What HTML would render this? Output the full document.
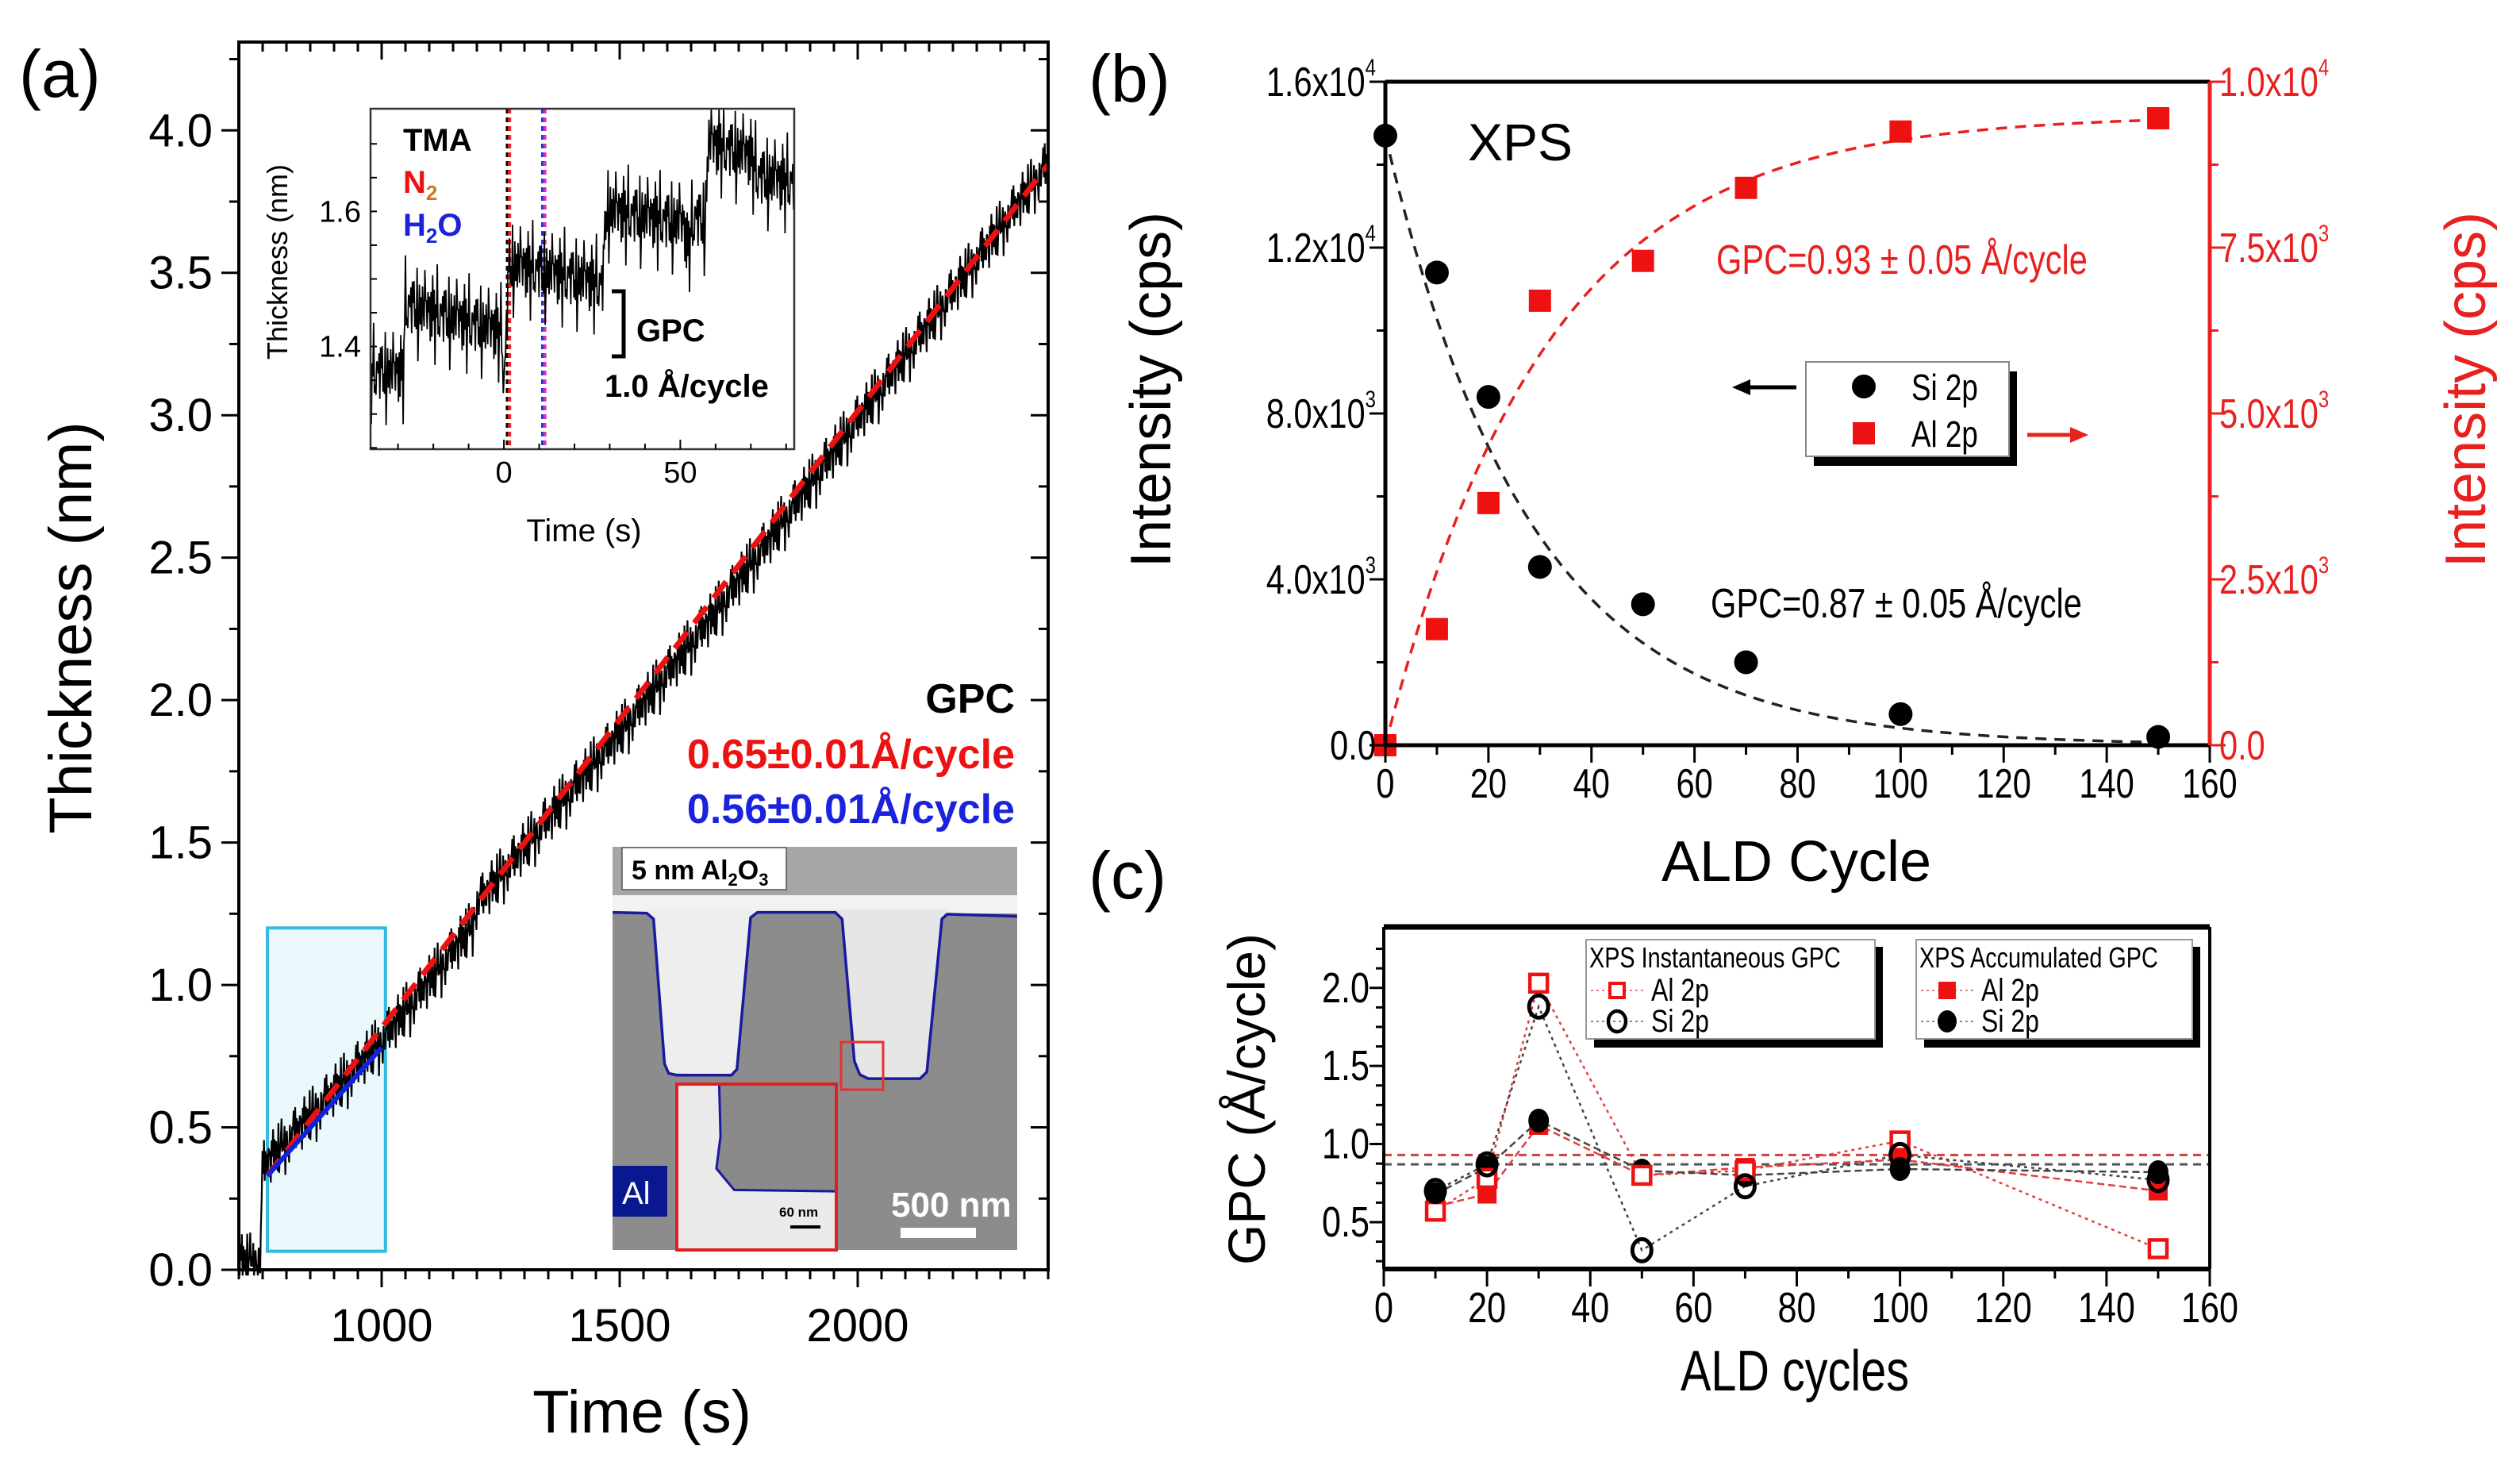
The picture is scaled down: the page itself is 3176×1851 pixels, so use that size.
<!DOCTYPE html>
<html><head><meta charset="utf-8"><style>
html,body{margin:0;padding:0;background:#fff;}
svg{display:block;}
text{font-family:"Liberation Sans",Arial,sans-serif;}
</style></head><body>
<svg id="fig" xmlns="http://www.w3.org/2000/svg" width="3176" height="1851" viewBox="0 0 3176 1851">
<rect x="0" y="0" width="3176" height="1851" fill="#fff"/>
<g id="pa"></g>
<g id="pb"></g>
<g id="pc"></g>
</svg>
<script>
// ---------- DATA ----------
const aTimes=[700,745,750,1000,1190,1200,1500,1700,2000,2400];
const aThick=[0.03,0.03,0.36,0.80,1.20,1.28,1.88,2.30,2.98,3.88];
const aFitRed=[[760,0.33],[2400,3.88]];
const aFitBlue=[[760,0.33],[1000,0.78]];
const aXTicks=[1000,1500,2000];
const aYTicks=[0,0.5,1,1.5,2,2.5,3,3.5,4];
const aYLabels=["0.0","0.5","1.0","1.5","2.0","2.5","3.0","3.5","4.0"];
const jit=[0.3,-0.8,0.6,-0.2,0.9,-0.5,0.1,-0.9,0.7,0.2,-0.4,0.8,-0.7,0.4,-0.1,0.95,-0.6,0.25,-0.3,0.55,-0.85,0.15,0.7,-0.45,0.35,-0.95,0.5,0.05,-0.65,0.85,-0.15,0.45,-0.75,0.6,-0.35,0.2,-0.55,0.75,-0.25,0.65,-0.05];
const iTimes=[-38,-28.5,-28,-0.5,0,1.5,28,29,51,52,54,57,58,70,72,82.3];
const iThick=[1.36,1.36,1.46,1.42,1.33,1.52,1.49,1.60,1.58,1.54,1.59,1.58,1.70,1.68,1.65,1.64];
const iVLines=[1.0,1.6,11.0,11.6];
const bCycles=[0,10,20,30,50,70,100,150];
const bSi=[14700,11400,8400,4300,3400,2000,750,200];
const bAl=[0,1750,3650,6700,7300,8400,9250,9450];
const bSiFit=[14700,28];
const bAlFit=[9500,31];
const bXTicks=[0,20,40,60,80,100,120,140,160];
const bLTicks=[0,4000,8000,12000,16000];
const bLLab=[["0.0",""],["4.0x10","3"],["8.0x10","3"],["1.2x10","4"],["1.6x10","4"]];
const bRTicks=[0,2500,5000,7500,10000];
const bRLab=[["0.0",""],["2.5x10","3"],["5.0x10","3"],["7.5x10","3"],["1.0x10","4"]];
const cCycles=[10,20,30,50,70,100,150];
const cInstAl=[0.57,0.78,2.03,0.80,0.83,1.02,0.33];
const cInstSi=[0.70,0.87,1.88,0.32,0.73,0.93,0.77];
const cAccAl=[0.60,0.68,1.12,0.80,0.85,0.90,0.70];
const cAccSi=[0.68,0.85,1.15,0.83,0.80,0.84,0.82];
const cRefLines=[0.93,0.87];
const cXTicks=[0,20,40,60,80,100,120,140,160];
const cYTicks=[0.5,1.0,1.5,2.0];
const cYLabels=["0.5","1.0","1.5","2.0"];

// ---------- HELPERS ----------
const NS="http://www.w3.org/2000/svg";
function el(tag,attrs,parent,txt){const e=document.createElementNS(NS,tag);for(const k in attrs)e.setAttribute(k,attrs[k]);if(txt!==undefined)e.textContent=txt;parent.appendChild(e);return e;}
function lin(d0,d1,r0,r1){return v=>r0+(v-d0)/(d1-d0)*(r1-r0);}
function interp(xs,ys,x){for(let i=0;i<xs.length-1;i++){if(x<=xs[i+1]){const f=(x-xs[i])/(xs[i+1]-xs[i]);return ys[i]+f*(ys[i+1]-ys[i]);}}return ys[ys.length-1];}
// condensed text: returns text element inside scaled group
function ntext(parent,x,y,size,anchor,fill,str){const gg=el('g',{transform:'translate('+x+','+y+') scale(0.8,1)'},parent);const t=el('text',{x:0,y:0,'font-size':size,'text-anchor':anchor||'start',fill:fill||'#000'},gg,str);return t;}

// ---------- PANEL A ----------
(function(){
const g=document.getElementById('pa');
const L=301,R=1321,T=53,B=1600;
const X=lin(700,2400,L,R),Y=lin(0,4.31,B,T);
let e=el('rect',{x:X(760),y:Y(1.2),width:X(1008)-X(760),height:Y(0.065)-Y(1.2),fill:'#eaf8fc',stroke:'#33bbdd','stroke-width':4},g);

let d='';let k=0;
for(let t=700;t<=2400;t+=1.6){let v=interp(aTimes,aThick,t)+0.08*jit[k%jit.length]+0.05*jit[(k*7+3)%jit.length];k++;d+=(d?'L':'M')+X(t).toFixed(1)+' '+Y(Math.max(-0.02,v)).toFixed(1);}
e=el('path',{d:d,fill:'none',stroke:'#000','stroke-width':2.2},g);

e=el('line',{x1:X(aFitRed[0][0]),y1:Y(aFitRed[0][1]),x2:X(aFitRed[1][0]),y2:Y(aFitRed[1][1]),stroke:'#ee1111','stroke-width':7,'stroke-dasharray':'26 14'},g);

e=el('line',{x1:X(aFitBlue[0][0]),y1:Y(aFitBlue[0][1]),x2:X(aFitBlue[1][0]),y2:Y(aFitBlue[1][1]),stroke:'#1122dd','stroke-width':6},g);

e=el('rect',{x:L,y:T,width:R-L,height:B-T,fill:'none',stroke:'#000','stroke-width':4},g);

for(let t=700;t<=2400;t+=50){const maj=t%500===0;const x=X(t);el('line',{x1:x,y1:B,x2:x,y2:B+(maj?22:12),stroke:'#000','stroke-width':3},g);el('line',{x1:x,y1:T,x2:x,y2:T+(maj?22:12),stroke:'#000','stroke-width':3},g);}
for(let v=0;v<=4.3;v+=0.25){const y=Y(v);const maj=Math.abs(v*2-Math.round(v*2))<1e-6;el('line',{x1:L,y1:y,x2:L-(maj?22:12),y2:y,stroke:'#000','stroke-width':3},g);el('line',{x1:R,y1:y,x2:R-(maj?22:12),y2:y,stroke:'#000','stroke-width':3},g);}
aXTicks.forEach(t=>{const e=el('text',{x:X(t),y:1690,'font-size':58,'text-anchor':'middle'},g,String(t));});
aYTicks.forEach((v,i)=>{const e=el('text',{x:268,y:Y(v)+20,'font-size':58,'text-anchor':'end'},g,aYLabels[i]);});
e=el('text',{x:809,y:1805,'font-size':76,'text-anchor':'middle'},g,'Time (s)');
e=el('text',{x:0,y:0,'font-size':76,'text-anchor':'middle',transform:'translate(115,791) rotate(-90)'},g,'Thickness (nm)');
e=el('text',{x:24,y:122,'font-size':84},g,'(a)');
e=el('text',{x:1279,y:898,'font-size':52,'font-weight':'bold','text-anchor':'end'},g,'GPC');
e=el('text',{x:1279,y:968,'font-size':52,'font-weight':'bold','text-anchor':'end',fill:'#ee1111'},g,'0.65±0.01Å/cycle');
e=el('text',{x:1279,y:1037,'font-size':52,'font-weight':'bold','text-anchor':'end',fill:'#1a22dd'},g,'0.56±0.01Å/cycle');

// ---- SEM image ----
const s=el('g',{},g);
el('rect',{x:772,y:1067,width:510,height:508,fill:'#8c8c8c'},s);
el('rect',{x:772,y:1067,width:510,height:61,fill:'#a6a6a6'},s);
el('rect',{x:772,y:1128,width:510,height:23,fill:'#f2f2f2'},s);
const sx=n=>760+n*0.3444, sy=n=>1060+n*0.338;
const prof=[[35,265],[160,268],[185,290],[225,830],[240,865],[270,872],[470,872],[490,850],[540,285],[565,265],[850,265],[875,290],[920,820],[940,870],[970,885],[1160,885],[1185,860],[1240,290],[1260,272],[1515,280]];
el('path',{d:'M'+sx(160)+' '+sy(255)+' L'+sx(185)+' '+sy(290)+' L'+sx(225)+' '+sy(830)+' L'+sx(240)+' '+sy(865)+' L'+sx(470)+' '+sy(872)+' L'+sx(490)+' '+sy(850)+' L'+sx(540)+' '+sy(285)+' L'+sx(565)+' '+sy(255)+'Z',fill:'#eeeeee'},s);
el('path',{d:'M'+sx(850)+' '+sy(255)+' L'+sx(875)+' '+sy(290)+' L'+sx(920)+' '+sy(820)+' L'+sx(940)+' '+sy(870)+' L'+sx(970)+' '+sy(885)+' L'+sx(1160)+' '+sy(885)+' L'+sx(1185)+' '+sy(860)+' L'+sx(1240)+' '+sy(290)+' L'+sx(1260)+' '+sy(255)+'Z',fill:'#e6e6e6'},s);
el('path',{d:prof.map((p,i)=>(i?'L':'M')+sx(p[0]).toFixed(1)+' '+sy(p[1]).toFixed(1)).join(' '),fill:'none',stroke:'#1a1aa0','stroke-width':3.5},s);
el('rect',{x:784,y:1068,width:207,height:53,fill:'#fff',stroke:'#555','stroke-width':1.5},s);
const lt=el('text',{x:796,y:1108,'font-size':34,'font-weight':'bold'},s);
el('tspan',{},lt,'5 nm Al');el('tspan',{'font-size':22,dy:8},lt,'2');el('tspan',{dy:-8},lt,'O');el('tspan',{'font-size':22,dy:8},lt,'3');
el('rect',{x:1060,y:1313,width:53,height:60,fill:'none',stroke:'#e83030','stroke-width':3},s);
el('rect',{x:853,y:1366,width:201,height:209,fill:'#eaeaea'},s);
el('path',{d:'M'+sx(425)+' '+sy(905)+' L'+sx(430)+' '+sy(1100)+' L'+sx(415)+' '+sy(1220)+' L'+sx(480)+' '+sy(1300)+' L'+sx(855)+' '+sy(1305)+' L'+sx(855)+' '+sy(905)+'Z',fill:'#8a8a8a'},s);
el('path',{d:'M'+sx(425)+' '+sy(905)+' L'+sx(430)+' '+sy(1100)+' L'+sx(415)+' '+sy(1220)+' L'+sx(480)+' '+sy(1300)+' L'+sx(855)+' '+sy(1305),fill:'none',stroke:'#1a1aa0','stroke-width':3},s);
el('rect',{x:853,y:1366,width:201,height:209,fill:'none',stroke:'#e02020','stroke-width':4},s);
el('text',{x:982,y:1533,'font-size':17,'font-weight':'bold'},s,'60 nm');
el('rect',{x:996,y:1544,width:38,height:4,fill:'#000'},s);
el('rect',{x:772,y:1469,width:69,height:64,fill:'#0a1890'},s);
el('text',{x:784,y:1517,'font-size':40,fill:'#fff'},s,'Al');
el('text',{x:1123,y:1533,'font-size':44,'font-weight':'bold',fill:'#fff'},s,'500 nm');
el('rect',{x:1135,y:1547,width:95,height:13,fill:'#fff'},s);

// ---- INSET ----
const iL=467,iR=1001,iT=137,iB=566;
const IX=lin(-37.8,82.3,iL,iR),IY=lin(1.248,1.752,iB,iT);
const ig=el('g',{},g);
el('rect',{x:iL,y:iT,width:iR-iL,height:iB-iT,fill:'#fff'},ig);
const vc=['#000','#ee2222','#2233dd','#cc33cc'];
iVLines.forEach((t,i)=>{const e=el('line',{x1:IX(t),y1:iT,x2:IX(t),y2:iB,stroke:vc[i],'stroke-width':4,'stroke-dasharray':'6 5'},ig);});
d='';k=0;
for(let t=-37.8;t<=82.3;t+=0.22){let v=interp(iTimes,iThick,t)+0.06*jit[k%jit.length]+0.03*jit[(k*5+2)%jit.length];k++;v=Math.min(1.752,Math.max(1.248,v));d+=(d?'L':'M')+IX(t).toFixed(1)+' '+IY(v).toFixed(1);}
e=el('path',{d:d,fill:'none',stroke:'#000','stroke-width':1.8},ig);
el('rect',{x:iL,y:iT,width:iR-iL,height:iB-iT,fill:'none',stroke:'#333','stroke-width':2.5},ig);
for(let t=-30;t<=80;t+=10){const x=IX(t);el('line',{x1:x,y1:iB,x2:x,y2:iB-(t%50===0?12:7),stroke:'#000','stroke-width':2},ig);}
for(let v=1.25;v<=1.75;v+=0.05){const y=IY(v);el('line',{x1:iL,y1:y,x2:iL+8,y2:y,stroke:'#000','stroke-width':2},ig);}
[0,50].forEach(t=>{el('text',{x:IX(t),y:608,'font-size':38,'text-anchor':'middle'},ig,String(t));});
[[1.4,'1.4'],[1.6,'1.6']].forEach(p=>{el('text',{x:455,y:IY(p[0])+13,'font-size':38,'text-anchor':'end'},ig,p[1]);});
el('text',{x:736,y:682,'font-size':40,'text-anchor':'middle'},ig,'Time (s)');
el('text',{x:0,y:0,'font-size':36,'text-anchor':'middle',transform:'translate(362,330) rotate(-90)'},ig,'Thickness (nm)');
el('text',{x:508,y:190,'font-size':40,'font-weight':'bold'},ig,'TMA');
const n2=el('text',{x:508,y:243,'font-size':40,'font-weight':'bold',fill:'#ee1111'},ig);el('tspan',{},n2,'N');el('tspan',{'font-size':26,dy:9,fill:'#cc7722'},n2,'2');
const h2=el('text',{x:508,y:297,'font-size':40,'font-weight':'bold',fill:'#1a22dd'},ig);el('tspan',{},h2,'H');el('tspan',{'font-size':26,dy:9},h2,'2');el('tspan',{dy:-9},h2,'O');
el('path',{d:'M771 367 H786 V449 H771',fill:'none',stroke:'#000','stroke-width':5},ig);
el('text',{x:802,y:430,'font-size':40,'font-weight':'bold'},ig,'GPC');
el('text',{x:762,y:500,'font-size':40,'font-weight':'bold'},ig,'1.0 Å/cycle');
})();

// ---------- PANEL B ----------
(function(){
const g=document.getElementById('pb');
const L=1746,R=2785,T=103,B=939;
const X=lin(0,160,L,R),YL=lin(0,16000,B,T),YR=lin(0,10000,B,T);
let d1='',d2='';
for(let c=0;c<=150;c+=1){d1+=(c?'L':'M')+X(c).toFixed(1)+' '+YL(bSiFit[0]*Math.exp(-c/bSiFit[1])).toFixed(1);d2+=(c?'L':'M')+X(c).toFixed(1)+' '+YR(bAlFit[0]*(1-Math.exp(-c/bAlFit[1]))).toFixed(1);}
let e=el('path',{d:d1,fill:'none',stroke:'#222','stroke-width':3.5,'stroke-dasharray':'14 10'},g);
e=el('path',{d:d2,fill:'none',stroke:'#e82020','stroke-width':3.5,'stroke-dasharray':'14 10'},g);
bCycles.forEach((c,i)=>{const e=el('circle',{cx:X(c),cy:YL(bSi[i]),r:15,fill:'#000'},g);});
bCycles.forEach((c,i)=>{const e=el('rect',{x:X(c)-14,y:YR(bAl[i])-14,width:28,height:28,fill:'#ee1111'},g);});
el('line',{x1:L,y1:T,x2:R,y2:T,stroke:'#000','stroke-width':5},g);
el('line',{x1:L,y1:B,x2:R,y2:B,stroke:'#000','stroke-width':5},g);
el('line',{x1:L,y1:T,x2:L,y2:B,stroke:'#000','stroke-width':5},g);
el('line',{x1:R,y1:T,x2:R,y2:B,stroke:'#e82020','stroke-width':5},g);
for(let c=0;c<=160;c+=10){const x=X(c);el('line',{x1:x,y1:B,x2:x,y2:B+(c%20===0?22:12),stroke:'#000','stroke-width':3},g);}
for(let v=0;v<=16000;v+=2000){const y=YL(v);el('line',{x1:L,y1:y,x2:L-(v%4000===0?20:11),y2:y,stroke:'#000','stroke-width':3},g);}
for(let v=0;v<=10000;v+=1250){const y=YR(v);el('line',{x1:R,y1:y,x2:R+(v%2500===0?20:11),y2:y,stroke:'#e82020','stroke-width':3},g);}
bXTicks.forEach(c=>{const e=ntext(g,X(c),1005,52,'middle','#000',String(c));});
bLTicks.forEach((v,i)=>{const t=ntext(g,1734,YL(v)+18,52,'end','#000');el('tspan',{},t,bLLab[i][0]);if(bLLab[i][1])el('tspan',{'font-size':30,dy:-26},t,bLLab[i][1]);});
bRTicks.forEach((v,i)=>{const t=ntext(g,2797,YR(v)+18,52,'start','#e82020');el('tspan',{},t,bRLab[i][0]);if(bRLab[i][1])el('tspan',{'font-size':30,dy:-26},t,bRLab[i][1]);});
e=el('text',{x:0,y:0,'font-size':72,'text-anchor':'middle',transform:'translate(1475,491) rotate(-90)'},g,'Intensity (cps)');
e=el('text',{x:0,y:0,'font-size':72,'text-anchor':'middle',fill:'#e82020',transform:'translate(3132,491) rotate(-90)'},g,'Intensity (cps)');
e=el('text',{x:2264,y:1110,'font-size':72,'text-anchor':'middle'},g,'ALD Cycle');
e=el('text',{x:1372,y:128,'font-size':84},g,'(b)');
e=el('text',{x:1850,y:202,'font-size':66},g,'XPS');
e=ntext(g,2163,345,52,'start','#e82020','GPC=0.93 ± 0.05 Å/cycle');
e=ntext(g,2156,778,52,'start','#000','GPC=0.87 ± 0.05  Å/cycle');
const lg=el('g',{},g);
el('rect',{x:2286,y:468,width:256,height:119,fill:'#000'},lg);
el('rect',{x:2276,y:456,width:256,height:119,fill:'#fff',stroke:'#888','stroke-width':2},lg);
el('circle',{cx:2349,cy:487,r:15,fill:'#000'},lg);
ntext(lg,2409,504,46,'start','#000','Si 2p');
el('rect',{x:2335,y:532,width:28,height:28,fill:'#ee1111'},lg);
ntext(lg,2409,563,46,'start','#000','Al 2p');
el('line',{x1:2264,y1:488,x2:2200,y2:488,stroke:'#000','stroke-width':5},lg);
el('path',{d:'M2183 488 L2206 478 L2206 498Z',fill:'#000'},lg);
el('line',{x1:2555,y1:548,x2:2615,y2:548,stroke:'#e82020','stroke-width':5},lg);
el('path',{d:'M2632 548 L2609 538 L2609 558Z',fill:'#e82020'},lg);
})();

// ---------- PANEL C ----------
(function(){
const g=document.getElementById('pc');
const L=1744,R=2785,T=1168,B=1599;
const X=lin(0,160,L,R),Y=lin(0.2,2.39,B,T);
cRefLines.forEach((v,i)=>{const e=el('line',{x1:L,y1:Y(v),x2:R,y2:Y(v),stroke:i?'#555':'#d04040','stroke-width':3,'stroke-dasharray':'10 7'},g);});
function line(vals,col,dash,name){const d=cCycles.map((c,i)=>(i?'L':'M')+X(c).toFixed(1)+' '+Y(vals[i]).toFixed(1)).join(' ');const e=el('path',{d:d,fill:'none',stroke:col,'stroke-width':2.5,'stroke-dasharray':dash},g);}
line(cInstAl,'#e04040','4 5','inst-al-line');line(cInstSi,'#444','4 5','inst-si-line');
line(cAccAl,'#e04040','9 5','acc-al-line');line(cAccSi,'#444','9 5','acc-si-line');
cCycles.forEach((c,i)=>{const e=el('rect',{x:X(c)-12,y:Y(cAccAl[i])-12,width:24,height:24,fill:'#ee1111'},g);});
cCycles.forEach((c,i)=>{const e=el('ellipse',{cx:X(c),cy:Y(cAccSi[i]),rx:13,ry:15,fill:'#000'},g);});
cCycles.forEach((c,i)=>{const e=el('rect',{x:X(c)-11,y:Y(cInstAl[i])-11,width:22,height:22,fill:'#fff',stroke:'#ee1111','stroke-width':4.5},g);});
cCycles.forEach((c,i)=>{const e=el('ellipse',{cx:X(c),cy:Y(cInstSi[i]),rx:12,ry:14,fill:'none',stroke:'#000','stroke-width':5},g);});
el('line',{x1:L,y1:T,x2:R,y2:T,stroke:'#000','stroke-width':7},g);
el('line',{x1:L,y1:B,x2:R,y2:B,stroke:'#000','stroke-width':6},g);
el('line',{x1:L,y1:T,x2:L,y2:B,stroke:'#000','stroke-width':4},g);
el('line',{x1:R,y1:T,x2:R,y2:B,stroke:'#000','stroke-width':4},g);
for(let c=0;c<=160;c+=10){const x=X(c);el('line',{x1:x,y1:B,x2:x,y2:B+(c%20===0?22:12),stroke:'#000','stroke-width':3},g);}
for(let v=0.25;v<=2.35;v+=0.125){const y=Y(v);const maj=Math.abs(v*2-Math.round(v*2))<1e-6;el('line',{x1:L,y1:y,x2:L-(maj?18:10),y2:y,stroke:'#000','stroke-width':3},g);}
cXTicks.forEach(c=>{const e=ntext(g,X(c),1666,54,'middle','#000',String(c));});
cYTicks.forEach((v,i)=>{const e=ntext(g,1726,Y(v)+18,54,'end','#000',cYLabels[i]);});
let e=ntext(g,2262,1752,72,'middle','#000','ALD cycles');
e=el('text',{x:0,y:0,'font-size':66,'text-anchor':'middle',transform:'translate(1594,1385) rotate(-90)'},g,'GPC (Å/cycle)');
e=el('text',{x:1372,y:1132,'font-size':84},g,'(c)');
function legend(x0,x1,title,filled,name){const lg=el('g',{},g);
 el('rect',{x:x0+10,y:1193,width:x1-x0,height:127,fill:'#000'},lg);
 el('rect',{x:x0,y:1184,width:x1-x0,height:125,fill:'#fff',stroke:'#999','stroke-width':2},lg);
 ntext(lg,x0+4,1219,36,'start','#000',title);
 const mx=x0+39;
 el('line',{x1:x0+6,y1:1248,x2:x0+72,y2:1248,stroke:'#e08080','stroke-width':2,'stroke-dasharray':'3 4'},lg);
 el('line',{x1:x0+6,y1:1287,x2:x0+72,y2:1287,stroke:'#888','stroke-width':2,'stroke-dasharray':'3 4'},lg);
 if(filled){el('rect',{x:mx-11,y:1237,width:22,height:22,fill:'#ee1111'},lg);el('ellipse',{cx:mx,cy:1287,rx:12,ry:14,fill:'#000'},lg);}
 else{el('rect',{x:mx-9,y:1239,width:18,height:18,fill:'#fff',stroke:'#ee1111','stroke-width':4},lg);el('ellipse',{cx:mx,cy:1287,rx:11,ry:13,fill:'none',stroke:'#000','stroke-width':4.5},lg);}
 ntext(lg,x0+82,1261,40,'start','#000','Al 2p');
 ntext(lg,x0+82,1300,40,'start','#000','Si 2p');}
legend(1999,2363,'XPS Instantaneous GPC',false,'legend-instantaneous');
legend(2415,2763,'XPS Accumulated GPC',true,'legend-accumulated');
})();
</script>
</body></html>
